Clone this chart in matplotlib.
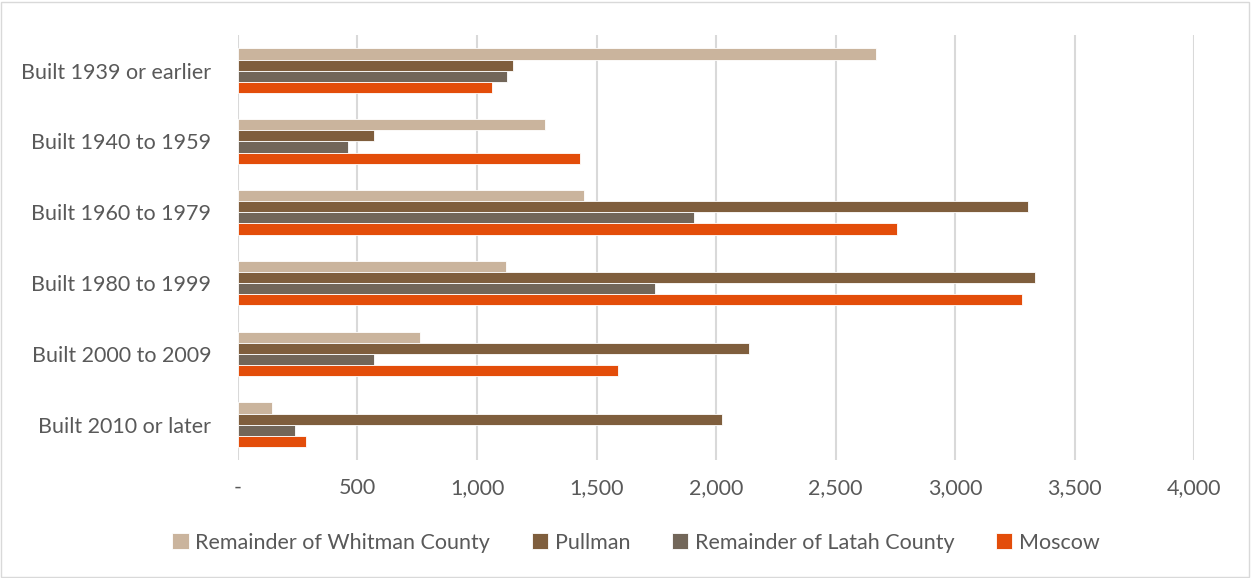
import matplotlib

matplotlib.use('Agg')
import matplotlib.pyplot as plt
from matplotlib.patches import Rectangle
import numpy as np

# Data
categories = ['Built 1939 or earlier', 'Built 1940 to 1959', 'Built 1960 to 1979',
              'Built 1980 to 1999', 'Built 2000 to 2009', 'Built 2010 or later']
series_names = ['Remainder of Whitman County', 'Pullman', 'Remainder of Latah County', 'Moscow']
whitman = [2670, 1285, 1448, 1121, 762, 142]
pullman = [1151, 569, 3305, 3335, 2138, 2025]
latah = [1125, 460, 1908, 1745, 569, 238]
moscow = [1063, 1431, 2757, 3280, 1590, 285]
colors = ['#CAB49D', '#7F5E3D', '#726659', '#E34D0A']

plt.rcParams['font.family'] = ['Lato', 'DejaVu Sans']
text_color = '#595959'
fs = 15.5

fig = plt.figure(figsize=(12.52, 5.78), dpi=100)
ax = fig.add_axes([0.190, 0.204, 0.764, 0.735])

y = np.arange(len(categories))
h = 0.157
series = [whitman, pullman, latah, moscow]
for i, (vals, name, c) in enumerate(zip(series, series_names, colors)):
    offset = (i - 1.5) * h
    ax.barh(y + offset, vals, height=h, color=c, edgecolor='white',
            linewidth=0.6, label=name, zorder=3)

ax.set_ylim(len(categories) - 0.5, -0.5)
ax.set_xlim(0, 4000)
ax.set_yticks(y)
ax.set_yticklabels(categories, fontsize=fs, color=text_color)
ticks = np.arange(0, 4001, 500)
ax.set_xticks(ticks)
ax.set_xticklabels(['-' if t == 0 else f'{t:,}' for t in ticks], fontsize=fs,
                   color=text_color)
ax.tick_params(axis='both', length=0)
ax.tick_params(axis='x', pad=13)
ax.tick_params(axis='y', pad=19)
ax.grid(axis='x', color='#D9D9D9', linewidth=1.5, zorder=0)
for s in ax.spines.values():
    s.set_visible(False)

leg = fig.legend(loc='center', bbox_to_anchor=(0.508, 0.061), ncol=4, frameon=False,
                 prop={'size': fs}, handlelength=0.75, handleheight=0.75,
                 handletextpad=0.3, columnspacing=1.95)
for t in leg.get_texts():
    t.set_color(text_color)

fig.patches.append(Rectangle((0.001, 0.002), 0.997, 0.995, transform=fig.transFigure,
                             fill=False, edgecolor='#D9D9D9', linewidth=1))

fig.savefig('out.png', dpi=100, facecolor='white')
